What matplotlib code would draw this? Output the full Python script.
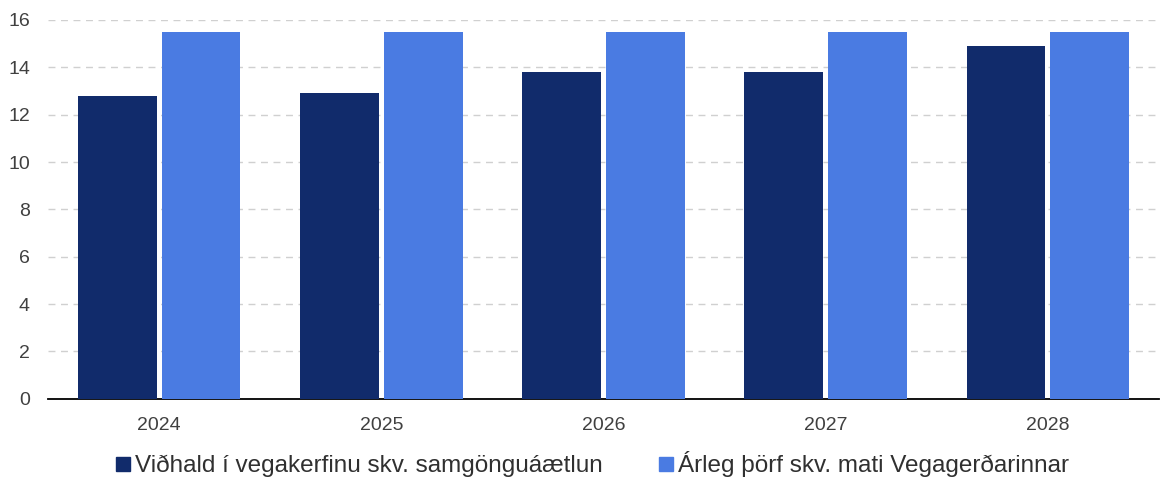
import numpy as np
import matplotlib.pyplot as plt
from matplotlib.lines import Line2D

plt.rcParams['font.family'] = ['Liberation Sans', 'DejaVu Sans']

years = ['2024', '2025', '2026', '2027', '2028']
vidhald = [12.8, 12.9, 13.8, 13.8, 14.9]
thorf = [15.5, 15.5, 15.5, 15.5, 15.5]
labels = ['Viðhald í vegakerfinu skv. samgönguáætlun',
          'Árleg þörf skv. mati Vegagerðarinnar']
dark = '#112b6b'
light = '#4a7be2'

fig = plt.figure(figsize=(11.61, 4.87), dpi=100)
ax = fig.add_axes([0.0413, 0.181, 0.957, 0.778])

x = np.arange(len(years))
w = 0.355
gap = 0.011
ax.bar(x - w/2 - gap, vidhald, w, color=dark, zorder=3)
ax.bar(x + w/2 + gap, thorf, w, color=light, zorder=3)

ax.set_xlim(-0.5, 4.5)
ax.set_ylim(0, 16)
ax.set_yticks(np.arange(0, 17, 2))
ax.set_xticks(x)
ax.set_xticklabels(years)
ax.yaxis.grid(True, color='#d0d0d0', linestyle=(0, (5, 4)), linewidth=1, zorder=0)
for s in ['top', 'right', 'left']:
    ax.spines[s].set_visible(False)
ax.spines['bottom'].set_color('black')
ax.spines['bottom'].set_linewidth(1.3)
ax.tick_params(axis='both', length=0, labelsize=14, colors='#404040')
ax.tick_params(axis='x', pad=13)
ax.tick_params(axis='y', pad=13)

handles = [Line2D([], [], marker='s', linestyle='', color=dark, markersize=10),
           Line2D([], [], marker='s', linestyle='', color=light, markersize=10)]
fig.legend(handles, labels, loc='lower center', bbox_to_anchor=(0.51, -0.025), ncol=2,
           frameon=False, fontsize=17.5, handlelength=0.6, handletextpad=0.2,
           columnspacing=2.3, labelcolor='#303030')

fig.savefig('out.png', dpi=100)
